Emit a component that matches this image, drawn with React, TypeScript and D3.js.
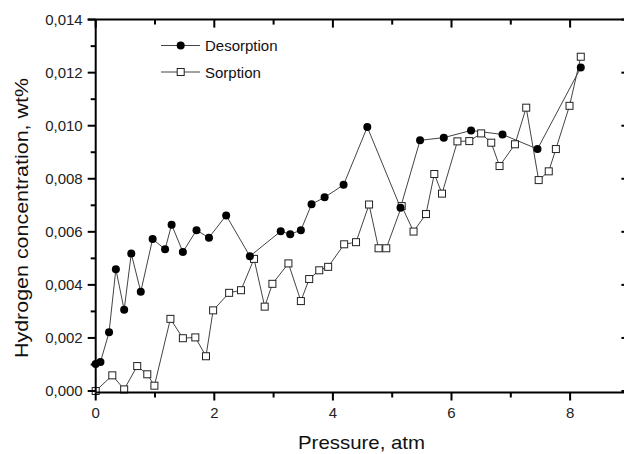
import React, { useEffect, useRef } from 'react';
import * as d3 from 'd3';

// pressure (atm) and concentration (x 0.001 wt%)
const desX = [0.0, 0.08, 0.225, 0.34, 0.48, 0.6, 0.76, 0.96, 1.17, 1.28, 1.47, 1.7, 1.91, 2.2, 2.6, 3.12, 3.28, 3.46, 3.64, 3.86, 4.18, 4.58, 5.14, 5.47, 5.87, 6.33, 6.86, 7.45, 8.18];
const desY = [1.02, 1.09, 2.21, 4.59, 3.06, 5.18, 3.74, 5.73, 5.34, 6.27, 5.24, 6.06, 5.78, 6.62, 5.08, 6.02, 5.91, 6.06, 7.04, 7.3, 7.77, 9.95, 6.91, 9.45, 9.55, 9.82, 9.67, 9.12, 12.19];

const sorX = [0.0, 0.28, 0.48, 0.7, 0.87, 0.99, 1.26, 1.47, 1.68, 1.86, 1.98, 2.25, 2.45, 2.67, 2.85, 2.98, 3.25, 3.46, 3.6, 3.77, 3.92, 4.19, 4.39, 4.61, 4.77, 4.9, 5.16, 5.36, 5.57, 5.71, 5.84, 6.1, 6.3, 6.5, 6.67, 6.81, 7.07, 7.26, 7.47, 7.64, 7.76, 7.99, 8.18];
const sorY = [0.0, 0.59, 0.06, 0.94, 0.63, 0.2, 2.72, 1.99, 2.02, 1.31, 3.04, 3.7, 3.8, 4.98, 3.18, 4.04, 4.81, 3.39, 4.22, 4.55, 4.68, 5.53, 5.61, 7.03, 5.38, 5.38, 6.97, 6.01, 6.67, 8.18, 7.44, 9.41, 9.42, 9.71, 9.36, 8.48, 9.3, 10.68, 7.95, 8.28, 9.12, 10.75, 12.6];

const xTicks = [0, 2, 4, 6, 8];
const xMinor = [1, 3, 5, 7];
const yTicks = [0, 0.002, 0.004, 0.006, 0.008, 0.01, 0.012, 0.014];
const yMinor = [0.001, 0.003, 0.005, 0.007, 0.009, 0.011, 0.013];

const seriesNames = ['Desorption', 'Sorption'];

const font = '"Liberation Sans", Arial, sans-serif';

const App = () => {
  const ref = useRef<SVGSVGElement>(null);

  useEffect(() => {
    const svg = d3.select(ref.current);
    svg.selectAll('*').remove();

    const left = 95.7, right = 629.4, top = 19.6, bottom = 391, axisY = 392.5;
    const x = d3.scaleLinear().domain([0, 9]).range([left, right]);
    const y = d3.scaleLinear().domain([0, 0.014]).range([bottom, top]);

    const des = desX.map((d, i) => [d, desY[i] / 1000]);
    const sor = sorX.map((d, i) => [d, sorY[i] / 1000]);

    const line = d3.line<number[]>().x(d => x(d[0])).y(d => y(d[1]));

    const g = svg.append('g');

    g.append('path').datum(des).attr('d', line).attr('fill', 'none').attr('stroke', '#444').attr('stroke-width', 1);
    g.append('path').datum(sor).attr('d', line).attr('fill', 'none').attr('stroke', '#444').attr('stroke-width', 1);

    g.selectAll('.sq').data(sor).join('rect')
      .attr('x', d => x(d[0]) - 3.5).attr('y', d => y(d[1]) - 3.5)
      .attr('width', 7).attr('height', 7)
      .attr('fill', 'white').attr('stroke', '#222').attr('stroke-width', 1);

    g.selectAll('.dot').data(des).join('circle')
      .attr('cx', d => x(d[0])).attr('cy', d => y(d[1])).attr('r', 4)
      .attr('fill', 'black');

    // axes
    const ax = svg.append('g').attr('stroke', 'black').attr('stroke-width', 2);
    ax.append('line').attr('x1', left - 8).attr('x2', right + 2).attr('y1', top).attr('y2', top);
    ax.append('line').attr('x1', left).attr('x2', right).attr('y1', axisY).attr('y2', axisY);
    ax.append('line').attr('x1', left).attr('x2', left).attr('y1', top).attr('y2', axisY);
    ax.append('line').attr('x1', right).attr('x2', right).attr('y1', top).attr('y2', axisY);

    // bottom / top ticks
    xTicks.forEach(t => {
      ax.append('line').attr('x1', x(t)).attr('x2', x(t)).attr('y1', axisY).attr('y2', axisY + 8);
      ax.append('line').attr('x1', x(t)).attr('x2', x(t)).attr('y1', top).attr('y2', top + 8);
    });
    xMinor.forEach(t => {
      ax.append('line').attr('x1', x(t)).attr('x2', x(t)).attr('y1', axisY).attr('y2', axisY + 5);
      ax.append('line').attr('x1', x(t)).attr('x2', x(t)).attr('y1', top).attr('y2', top + 5);
    });
    // left / right ticks
    yTicks.forEach(t => {
      ax.append('line').attr('x1', left - 8).attr('x2', left).attr('y1', y(t)).attr('y2', y(t));
      ax.append('line').attr('x1', right - 8).attr('x2', right).attr('y1', y(t)).attr('y2', y(t));
    });
    yMinor.forEach(t => {
      ax.append('line').attr('x1', left - 5).attr('x2', left).attr('y1', y(t)).attr('y2', y(t));
      ax.append('line').attr('x1', right - 5).attr('x2', right).attr('y1', y(t)).attr('y2', y(t));
    });

    const fmt = (v: number) => v.toFixed(3).replace('.', ',');

    svg.append('g').selectAll('text').data(yTicks).join('text')
      .attr('x', left - 13).attr('y', d => y(d)).attr('dy', '0.36em')
      .attr('text-anchor', 'end').attr('font-size', 15).attr('font-family', font).attr('fill', '#222')
      .text(d => fmt(d));

    svg.append('g').selectAll('text').data(xTicks).join('text')
      .attr('x', d => x(d)).attr('y', 418)
      .attr('text-anchor', 'middle').attr('font-size', 15).attr('font-family', font).attr('fill', '#222')
      .text(d => String(d));

    svg.append('text')
      .attr('x', 361.5).attr('y', 449)
      .attr('text-anchor', 'middle').attr('font-size', 19).attr('font-family', font).attr('fill', '#111')
      .attr('textLength', 127).attr('lengthAdjust', 'spacingAndGlyphs')
      .text('Pressure, atm');

    svg.append('text')
      .attr('transform', 'translate(28,218) rotate(-90)')
      .attr('text-anchor', 'middle').attr('font-size', 19).attr('font-family', font).attr('fill', '#111')
      .attr('textLength', 280).attr('lengthAdjust', 'spacingAndGlyphs')
      .text('Hydrogen concentration, wt%');

    // legend
    const lg = svg.append('g');
    seriesNames.forEach((name, i) => {
      const ly = 45.5 + i * 26.5;
      lg.append('line').attr('x1', 161).attr('x2', 200).attr('y1', ly).attr('y2', ly).attr('stroke', '#444').attr('stroke-width', 1);
      if (i === 0) {
        lg.append('circle').attr('cx', 180.7).attr('cy', ly).attr('r', 4).attr('fill', 'black');
      } else {
        lg.append('rect').attr('x', 177.2).attr('y', ly - 3.5).attr('width', 7).attr('height', 7)
          .attr('fill', 'white').attr('stroke', '#222').attr('stroke-width', 1);
      }
      lg.append('text').attr('x', 205).attr('y', ly + 5.5)
        .attr('font-size', 15).attr('font-family', font).attr('fill', '#111')
        .text(name);
    });
  }, []);

  return (
    <svg ref={ref} width={624} height={454} style={{ position: 'absolute', left: 0, top: 0, background: 'white' }} />
  );
};

export default App;
